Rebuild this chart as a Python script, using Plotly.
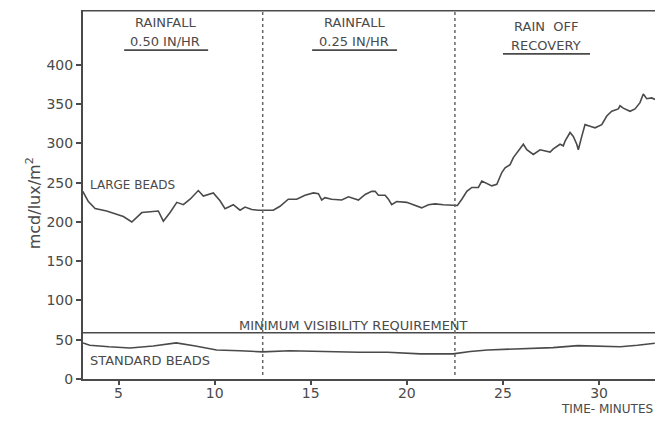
import plotly.graph_objects as go

# Retroreflectivity of pavement markings during and after simulated rainfall
large_t = [3.14, 3.43, 3.78, 4.38, 5.25, 5.69, 6.21, 6.64, 7.07, 7.33, 7.68, 8.03, 8.37, 8.72,
           9.15, 9.41, 9.93, 10.28, 10.54, 10.97, 11.32, 11.58, 11.93, 12.27, 12.62, 13.05,
           13.40, 13.83, 14.27, 14.70, 15.14, 15.40, 15.57, 15.74, 16.09, 16.61, 16.96, 17.48,
           17.83, 18.17, 18.35, 18.52, 18.87, 19.04, 19.21, 19.47, 19.99, 20.34, 20.77, 21.12,
           21.47, 21.90, 22.34, 22.63, 22.86, 23.12, 23.38, 23.72, 23.90, 24.07, 24.42, 24.68,
           24.94, 25.11, 25.37, 25.54, 25.80, 26.06, 26.24, 26.58, 26.93, 27.28, 27.45, 27.62,
           27.97, 28.14, 28.23, 28.49, 28.66, 28.84, 28.92, 29.10, 29.27, 29.53, 29.79, 30.14,
           30.40, 30.66, 31.00, 31.09, 31.26, 31.61, 31.87, 32.13, 32.30, 32.48, 32.74, 32.91]
large_v = [239, 226, 217, 214, 207, 200, 212, 213, 214, 201, 212, 225, 222, 229,
           240, 233, 237, 227, 217, 222, 215, 219, 216, 215, 215, 215,
           220, 229, 229, 234, 237, 236, 228, 231, 229, 228, 232, 228,
           235, 239, 239, 234, 234, 229, 222, 226, 225, 222, 218, 222,
           223, 222, 221, 221, 229, 239, 244, 244, 252, 250, 246, 248,
           263, 269, 273, 282, 290, 299, 292, 286, 292, 290, 289, 293,
           299, 297, 303, 314, 309, 299, 292, 309, 324, 322, 320, 324,
           335, 341, 344, 348, 345, 341, 344, 352, 363, 357, 358, 356]

std_t = [3.15, 3.5, 4.5, 5.6, 6.8, 8.0, 9.0, 10.1, 11.3, 12.5, 13.9, 15.5, 17.5, 19.0,
         20.7, 22.4, 23.3, 24.2, 25.8, 27.6, 28.9, 30.0, 31.1, 32.0, 32.9]
std_v = [46, 43, 41, 39.5, 42, 46, 42, 37, 36, 34.5, 36, 35, 34, 34,
         32, 32, 35, 37, 38, 40, 42.5, 42, 41, 43, 45.6]

min_visibility = 59
phase_breaks = [12.5, 22.5]
x_ticks = [5, 10, 15, 20, 25, 30]
y_ticks = [0, 50, 100, 150, 200, 250, 300, 350, 400]

X_MIN, X_MAX = 3.15, 32.91
Y_MAX = 470

INK = "#4a4a4a"
FONT = "DejaVu Sans"

fig = go.Figure()

fig.add_trace(go.Scatter(x=large_t, y=large_v, mode="lines",
                         line=dict(color=INK, width=1.6), hoverinfo="skip"))
fig.add_trace(go.Scatter(x=std_t, y=std_v, mode="lines",
                         line=dict(color=INK, width=1.6), hoverinfo="skip"))
fig.add_trace(go.Scatter(x=[X_MIN, X_MAX], y=[min_visibility, min_visibility], mode="lines",
                         line=dict(color=INK, width=1.6), hoverinfo="skip"))

# dotted boundaries between test phases
for xb in phase_breaks:
    fig.add_shape(type="line", x0=xb, x1=xb, y0=5, y1=Y_MAX, xref="x", yref="y",
                  line=dict(color="#666666", width=1.5, dash="dot"))

# frame top edge
fig.add_shape(type="line", x0=X_MIN, x1=X_MAX, y0=Y_MAX - 1, y1=Y_MAX - 1, xref="x", yref="y",
              line=dict(color=INK, width=1.6))

# phase headings with underlines
headings = [
    (7.42, "RAINFALL", "0.50 IN/HR", 5.29, 9.66),
    (17.25, "RAINFALL", "0.25 IN/HR", 15.07, 19.49),
    (27.25, "RAIN  OFF", "RECOVERY", 25.0, 29.53),
]
for i, (xc, top, bottom, u0, u1) in enumerate(headings):
    dy = 5 if i == 2 else 0
    fig.add_annotation(x=xc, y=454 - dy, text=top, showarrow=False,
                       font=dict(family=FONT, size=13, color=INK))
    fig.add_annotation(x=xc, y=430 - dy, text=bottom, showarrow=False,
                       font=dict(family=FONT, size=13, color=INK))
    fig.add_shape(type="line", x0=u0, x1=u1, y0=419 - dy, y1=419 - dy, xref="x", yref="y",
                  line=dict(color=INK, width=1.8))

fig.add_annotation(x=3.4, y=247, text="LARGE BEADS", showarrow=False, xanchor="left",
                   font=dict(family=FONT, size=12, color=INK))
fig.add_annotation(x=3.4, y=23, text="STANDARD BEADS", showarrow=False, xanchor="left",
                   font=dict(family=FONT, size=13, color=INK))
fig.add_annotation(x=17.2, y=68, text="MINIMUM VISIBILITY REQUIREMENT", showarrow=False,
                   font=dict(family=FONT, size=13, color=INK))
fig.add_annotation(x=1.0, xref="paper", y=-0.106, yref="paper", text="TIME- MINUTES",
                   showarrow=False, xanchor="right",
                   font=dict(family=FONT, size=12, color=INK))

# vertical axis title
fig.add_annotation(x=-0.107, xref="paper", y=0.477, yref="paper",
                   text="mcd/lux/m<sup>2</sup>", textangle=-90, showarrow=False,
                   font=dict(family=FONT, size=16, color=INK))

fig.update_layout(
    width=655, height=424,
    margin=dict(l=83, r=0, t=10, b=45),
    paper_bgcolor="white", plot_bgcolor="white",
    showlegend=False,
    font=dict(family=FONT, color=INK),
    xaxis=dict(range=[X_MIN, X_MAX], tickvals=x_ticks, ticks="outside", ticklen=4,
               tickwidth=1.5, tickcolor=INK, showgrid=False, zeroline=False,
               showline=True, linecolor=INK, linewidth=2, ticklabelstandoff=-4,
               tickfont=dict(family=FONT, size=14, color=INK)),
    yaxis=dict(range=[0, Y_MAX], tickvals=y_ticks, ticks="outside", ticklen=5,
               tickwidth=1.5, tickcolor=INK, showgrid=False, zeroline=False,
               showline=True, linecolor=INK, linewidth=2,
               tickfont=dict(family=FONT, size=14, color=INK)),
)

fig.write_html("out.html")
